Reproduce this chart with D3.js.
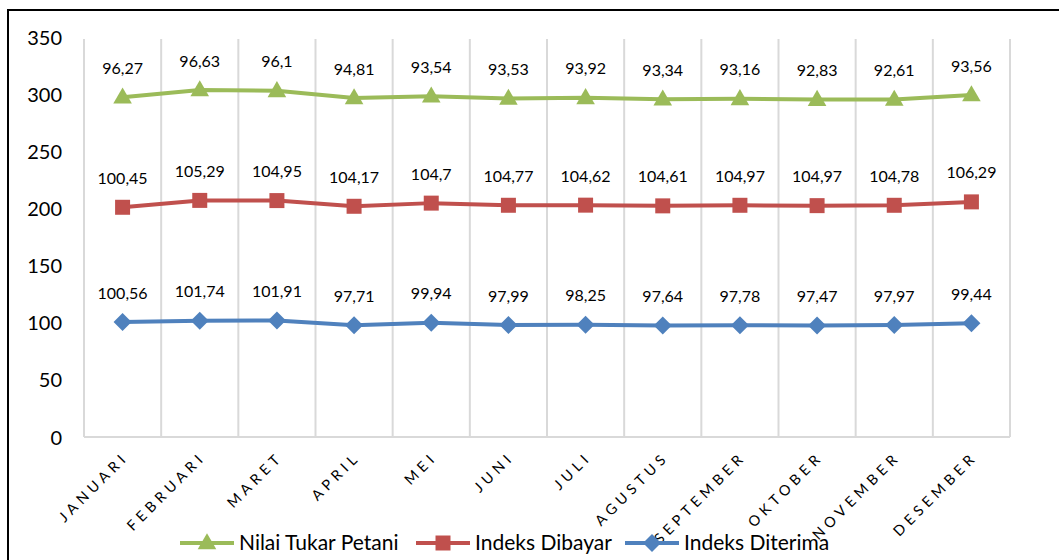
<!DOCTYPE html>
<html>
<head>
<meta charset="utf-8">
<script src="https://cdn.jsdelivr.net/npm/d3@7"></script>
<style>
  html, body { margin: 0; padding: 0; background: #fff; }
  svg { display: block; font-family: Lato, "Noto Sans", sans-serif; }
</style>
</head>
<body>
<svg id="chart" width="1059" height="560"></svg>
<script>
// Monthly indices, drawn as stacked lines (each series sits on top of the previous one)
const months = ["JANUARI", "FEBRUARI", "MARET", "APRIL", "MEI", "JUNI", "JULI",
                "AGUSTUS", "SEPTEMBER", "OKTOBER", "NOVEMBER", "DESEMBER"];
const indeksDiterima = [100.56, 101.74, 101.91, 97.71, 99.94, 97.99, 98.25, 97.64, 97.78, 97.47, 97.97, 99.44];
const indeksDibayar  = [100.45, 105.29, 104.95, 104.17, 104.7, 104.77, 104.62, 104.61, 104.97, 104.97, 104.78, 106.29];
const nilaiTukarPetani = [96.27, 96.63, 96.1, 94.81, 93.54, 93.53, 93.92, 93.34, 93.16, 92.83, 92.61, 93.56];
const yTicks = [0, 50, 100, 150, 200, 250, 300, 350];

const seriesInfo = [
  { key: "diterima", name: "Indeks Diterima", values: indeksDiterima, color: "#4F81BD", marker: "diamond" },
  { key: "dibayar",  name: "Indeks Dibayar",  values: indeksDibayar,  color: "#C0504D", marker: "square" },
  { key: "ntp",      name: "Nilai Tukar Petani", values: nilaiTukarPetani, color: "#9BBB59", marker: "triangle" }
];

const svg = d3.select("#chart");

// outer chart frame
svg.append("rect")
  .attr("x", 8).attr("y", 10).attr("width", 1070).attr("height", 580)
  .attr("fill", "none").attr("stroke", "#000").attr("stroke-width", 2);

const plot = { left: 84, right: 1010, top: 37, bottom: 437 };

const x = d3.scaleBand().domain(months).range([plot.left, plot.right]);
const y = d3.scaleLinear().domain([0, 350]).range([plot.bottom, plot.top]);

// stack the series
const rows = months.map((m, i) => {
  const r = { month: m };
  seriesInfo.forEach(s => r[s.key] = s.values[i]);
  return r;
});
const stacked = d3.stack().keys(seriesInfo.map(s => s.key))(rows);

// category boundary grid lines
const g = svg.append("g");
const bounds = months.map(m => x(m)).concat([plot.right]);
g.selectAll("line.grid").data(bounds).join("line")
  .attr("class", "grid")
  .attr("x1", d => d).attr("x2", d => d)
  .attr("y1", plot.top + 2).attr("y2", plot.bottom)
  .attr("stroke", "#D9D9D9").attr("stroke-width", 2);
g.append("line")
  .attr("x1", plot.left).attr("x2", plot.right)
  .attr("y1", plot.bottom).attr("y2", plot.bottom)
  .attr("stroke", "#D9D9D9").attr("stroke-width", 2);

// y axis labels
const yAxis = d3.axisLeft(y).tickValues(yTicks).tickSize(0).tickPadding(0);
const yg = svg.append("g").attr("transform", `translate(62,0)`).call(yAxis);
yg.select(".domain").remove();
yg.selectAll("text").attr("font-size", 20).attr("fill", "#000")
  .attr("font-family", "Lato, 'Noto Sans', sans-serif").attr("dy", "0.35em");

// x axis labels, rotated
const xg = svg.append("g");
xg.selectAll("text").data(months).join("text")
  .attr("transform", d => `translate(${x(d) + x.bandwidth() / 2 + 7},${plot.bottom + 21}) rotate(-45)`)
  .attr("text-anchor", "end")
  .attr("font-size", 14.5)
  .attr("letter-spacing", 4.5)
  .attr("fill", "#000")
  .text(d => d);

const cx = m => x(m) + x.bandwidth() / 2;

function markerPath(type) {
  if (type === "triangle") return d3.symbol().type(d3.symbolTriangle).size(150)();
  if (type === "square") return "M-7.5,-7.5H7.5V7.5H-7.5Z";
  return "M0,-9L9,0L0,9L-9,0Z";
}

stacked.forEach((layer, si) => {
  const s = seriesInfo[si];
  const pts = layer.map((d, i) => ({ month: months[i], top: d[1], value: s.values[i] }));
  const line = d3.line().x(d => cx(d.month)).y(d => y(d.top));
  svg.append("path").datum(pts)
    .attr("d", line).attr("fill", "none")
    .attr("stroke", s.color).attr("stroke-width", 4)
    .attr("stroke-linejoin", "round");
  svg.append("g").selectAll("path").data(pts).join("path")
    .attr("transform", d => `translate(${cx(d.month)},${y(d.top) + (s.marker === "triangle" ? 1 : 0)})`)
    .attr("d", markerPath(s.marker))
    .attr("fill", s.color);
  svg.append("g").selectAll("text").data(pts).join("text")
    .attr("x", d => cx(d.month))
    .attr("y", d => y(d.top) - 29)
    .attr("dy", "0.35em")
    .attr("text-anchor", "middle")
    .attr("font-size", 16)
    .attr("fill", "#000")
    .text(d => String(d.value).replace(".", ","));
});

// legend
const legendOrder = [seriesInfo[2], seriesInfo[1], seriesInfo[0]];
const legendX = [180, 416, 625];
const lg = svg.append("g");
legendOrder.forEach((s, i) => {
  const x0 = legendX[i], yy = 543;
  lg.append("line").attr("x1", x0).attr("x2", x0 + 54).attr("y1", yy).attr("y2", yy)
    .attr("stroke", s.color).attr("stroke-width", 4);
  lg.append("path").attr("transform", `translate(${x0 + 27},${yy + (s.marker === "triangle" ? 1 : 0)})`)
    .attr("d", markerPath(s.marker)).attr("fill", s.color);
  lg.append("text").attr("x", x0 + 59).attr("y", yy).attr("dy", "0.35em")
    .attr("font-size", 21).attr("fill", "#000").text(s.name);
});
</script>
</body>
</html>
